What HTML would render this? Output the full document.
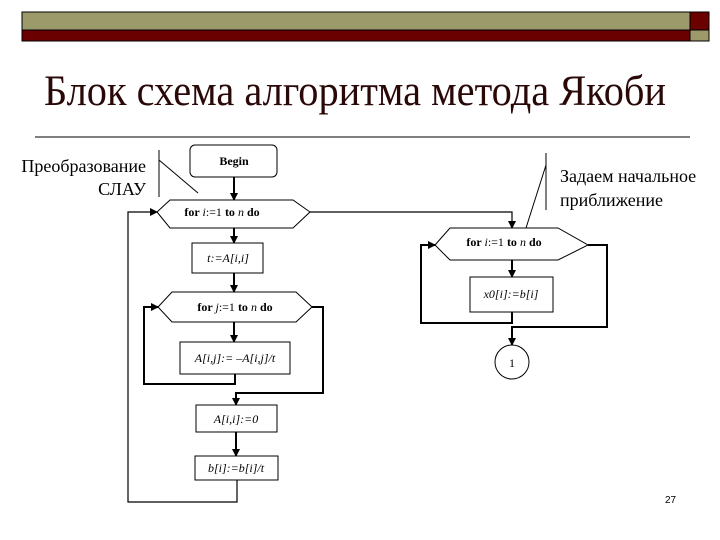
<!DOCTYPE html>
<html><head><meta charset="utf-8"><style>
html,body{margin:0;padding:0;background:#fff;}
svg{display:block}
</style></head><body>
<svg width="720" height="540" viewBox="0 0 720 540" xmlns="http://www.w3.org/2000/svg">
<defs>
<marker id="a" markerWidth="8" markerHeight="8" refX="7" refY="4" orient="auto" markerUnits="userSpaceOnUse">
<path d="M0,0 L8,4 L0,8 z" fill="#000"/></marker>
</defs>
<rect x="22" y="12" width="668" height="18" fill="#9c9a6a" stroke="#000" stroke-width="1"/>
<rect x="22" y="30" width="668" height="11" fill="#6b0000" stroke="#000" stroke-width="1"/>
<rect x="690" y="12" width="19" height="18" fill="#6b0000" stroke="#000" stroke-width="1"/>
<rect x="690" y="30" width="19" height="11" fill="#9c9a6a" stroke="#000" stroke-width="1"/>
<text x="44" y="105" font-family="Liberation Serif, serif" font-size="43" fill="#2a0808" textLength="622" lengthAdjust="spacingAndGlyphs">Блок схема алгоритма метода Якоби</text>
<line x1="35" y1="137" x2="690" y2="137" stroke="#000" stroke-width="1"/>

<text x="146" y="172" font-family="Liberation Serif, serif" font-size="18" text-anchor="end">Преобразование</text>
<text x="146" y="195" font-family="Liberation Serif, serif" font-size="18" text-anchor="end">СЛАУ</text>
<line x1="159" y1="150" x2="159" y2="197" stroke="#000"/>
<line x1="159" y1="160" x2="198" y2="193" stroke="#000"/>

<g font-family="Liberation Serif, serif" font-size="12" text-anchor="middle" fill="#000">
<rect x="190" y="145" width="87" height="32" rx="5" fill="#fff" stroke="#000"/>
<text x="234" y="165" font-weight="bold">Begin</text>
<line x1="234" y1="177" x2="234" y2="200" stroke="#000" stroke-width="2" marker-end="url(#a)"/>
<polygon points="157,212 170,200 293,200 310,212 293,228 170,228" fill="#fff" stroke="#000"/>
<text x="222" y="216"><tspan font-weight="bold">for </tspan><tspan font-style="italic">i</tspan>:=1 <tspan font-weight="bold">to</tspan> <tspan font-style="italic">n</tspan> <tspan font-weight="bold">do</tspan></text>
<line x1="234" y1="228" x2="234" y2="243" stroke="#000" stroke-width="2" marker-end="url(#a)"/>
<rect x="192" y="243" width="71" height="30" fill="#fff" stroke="#000"/>
<text x="228" y="262" font-style="italic">t:=A[i,i]</text>
<line x1="234" y1="273" x2="234" y2="292" stroke="#000" stroke-width="2" marker-end="url(#a)"/>
<polygon points="158,307 172,292 296,292 312,307 296,322 172,322" fill="#fff" stroke="#000"/>
<text x="235" y="311"><tspan font-weight="bold">for </tspan><tspan font-style="italic">j</tspan>:=1 <tspan font-weight="bold">to</tspan> <tspan font-style="italic">n</tspan> <tspan font-weight="bold">do</tspan></text>
<line x1="234" y1="322" x2="234" y2="342" stroke="#000" stroke-width="2" marker-end="url(#a)"/>
<rect x="180" y="342" width="110" height="32" fill="#fff" stroke="#000"/>
<text x="235" y="362" font-style="italic">A[i,j]:= –A[i,j]/t</text>
<polyline points="235,374 235,384 144,384 144,307 158,307" fill="none" stroke="#000" stroke-width="2" marker-end="url(#a)"/>
<polyline points="312,307 323,307 323,393 236,393 236,405" fill="none" stroke="#000" stroke-width="2" marker-end="url(#a)"/>
<rect x="196" y="405" width="81" height="27" fill="#fff" stroke="#000"/>
<text x="236" y="423" font-style="italic">A[i,i]:=0</text>
<line x1="236" y1="432" x2="236" y2="456" stroke="#000" stroke-width="2" marker-end="url(#a)"/>
<rect x="195" y="456" width="83" height="24" fill="#fff" stroke="#000"/>
<text x="236" y="472" font-style="italic">b[i]:=b[i]/t</text>
<polyline points="237,480 237,502 128,502 128,212 157,212" fill="none" stroke="#000" stroke-width="1.2" marker-end="url(#a)"/>

<polyline points="310,212 512,212 512,228" fill="none" stroke="#000" stroke-width="1.2" marker-end="url(#a)"/>
<polygon points="435,245 450,228 558,228 588,245 558,260 450,260" fill="#fff" stroke="#000"/>
<text x="504" y="246"><tspan font-weight="bold">for </tspan><tspan font-style="italic">i</tspan>:=1 <tspan font-weight="bold">to</tspan> <tspan font-style="italic">n</tspan> <tspan font-weight="bold">do</tspan></text>
<line x1="512" y1="260" x2="512" y2="277" stroke="#000" stroke-width="2" marker-end="url(#a)"/>
<rect x="470" y="277" width="83" height="35" fill="#fff" stroke="#000"/>
<text x="511" y="298" font-style="italic">x0[i]:=b[i]</text>
<polyline points="512,312 512,323 421,323 421,245 435,245" fill="none" stroke="#000" stroke-width="2" marker-end="url(#a)"/>
<polyline points="588,245 607,245 607,327 512,327 512,345" fill="none" stroke="#000" stroke-width="2" marker-end="url(#a)"/>
<circle cx="512" cy="362" r="17" fill="#fff" stroke="#000"/>
<text x="512" y="367">1</text>
</g>
<line x1="546" y1="153" x2="546" y2="210" stroke="#000"/>
<line x1="546" y1="165" x2="526" y2="228" stroke="#000"/>
<text x="560" y="182" font-family="Liberation Serif, serif" font-size="18">Задаем начальное</text>
<text x="560" y="206" font-family="Liberation Serif, serif" font-size="18">приближение</text>
<text x="665" y="503" font-family="Liberation Sans, sans-serif" font-size="10">27</text>
</svg>
</body></html>
